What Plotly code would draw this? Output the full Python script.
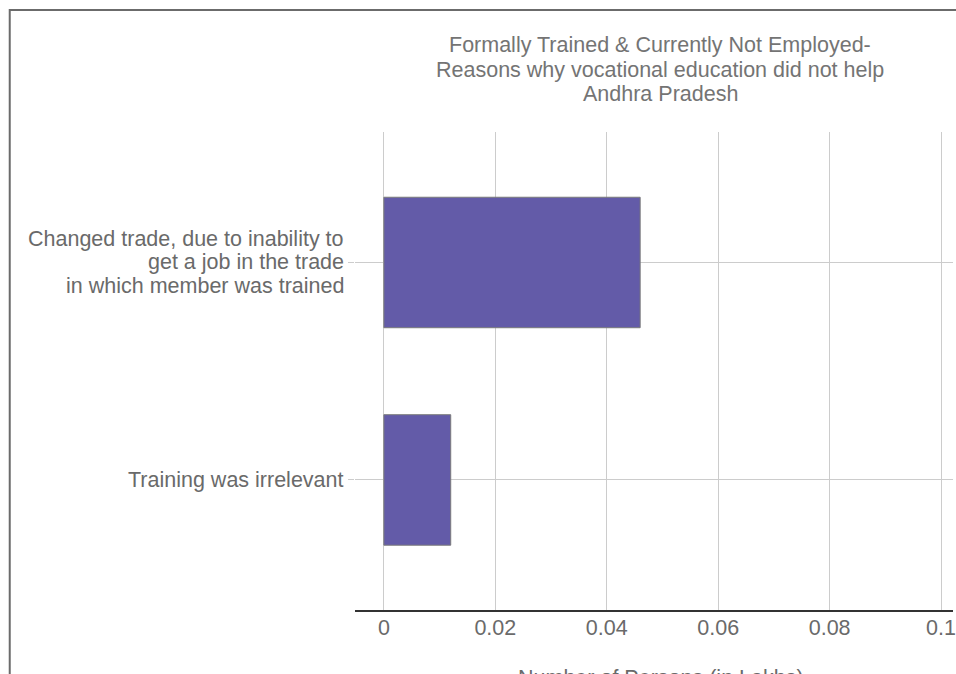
import plotly.graph_objects as go

categories = [
    "Training was irrelevant",
    "Changed trade, due to inability to<br>get a job in the trade<br>in which member was trained",
]
values = [0.012, 0.046]
tick_vals = [0, 0.02, 0.04, 0.06, 0.08, 0.1]
tick_text = ["0", "0.02", "0.04", "0.06", "0.08", "0.1"]
title_lines = [
    "Formally Trained & Currently Not Employed-",
    "Reasons why vocational education did not help",
    "Andhra Pradesh",
]
x_title = "Number of Persons (in Lakhs)"

W, H = 956, 674
L, R, T, B = 355, 956, 132, 610  # plot area in pixels
pw, ph = R - L, B - T

def px(x):
    return (x - L) / pw

def py(y):
    return (B - y) / ph

FONT = "Liberation Sans, Arial, sans-serif"
FS = 21.5
TXT = "#6a6a6a"

fig = go.Figure()
fig.add_trace(go.Bar(
    y=categories, x=values, orientation="h", width=0.6,
    marker=dict(color="#635ba8", line=dict(color="#7a7a7a", width=1)),
    hoverinfo="x+y",
))

annotations = []
# y category labels, one annotation per line for tight line spacing
for cat in categories:
    lines = cat.split("<br>")
    n = len(lines)
    for i, ln in enumerate(lines):
        annotations.append(dict(
            text=ln, xref="paper", yref="y", x=px(346), y=cat,
            xanchor="right", yanchor="middle", showarrow=False,
            yshift=((n - 1) / 2 - i) * 23.3,
            font=dict(size=FS, color=TXT, family=FONT),
        ))
# title lines
for i, ln in enumerate(title_lines):
    annotations.append(dict(
        text=ln, xref="paper", yref="paper", x=px(662), y=py(45 + 24.5 * i),
        xanchor="center", yanchor="middle", showarrow=False,
        font=dict(size=FS, color="#747474", family=FONT),
    ))
annotations.append(dict(
    text=x_title, xref="paper", yref="paper",
    x=px(663), y=py(664), xanchor="center", yanchor="top",
    showarrow=False, font=dict(size=FS, color=TXT, family=FONT)))

fig.update_layout(
    width=W, height=H,
    margin=dict(l=L, r=W - R, t=T, b=H - B, pad=0),
    paper_bgcolor="white", plot_bgcolor="white",
    showlegend=False,
    font=dict(family=FONT, size=FS, color=TXT),
    xaxis=dict(
        range=[-29 / 5600, 572 / 5600],
        tickvals=tick_vals, ticktext=tick_text,
        showgrid=True, gridcolor="#cccccc", gridwidth=1,
        zeroline=False,
        showline=True, linecolor="#333333", linewidth=1.5,
        ticks="", tickfont=dict(size=FS, color=TXT),
        ticklabeloverflow="allow", ticklabelstandoff=-3,
    ),
    yaxis=dict(
        type="category",
        range=[-0.598, 1.6],
        showgrid=True, gridcolor="#cccccc", gridwidth=1,
        zeroline=False, showline=False,
        ticks="outside", ticklen=6, tickcolor="#cccccc",
        showticklabels=False,
    ),
    shapes=[dict(
        type="rect", xref="paper", yref="paper",
        x0=px(8), x1=px(1000), y0=py(720), y1=py(10),
        line=dict(color="#6b6b6b", width=2), fillcolor="rgba(0,0,0,0)",
        layer="above",
    )],
    annotations=annotations,
)

fig.write_html(
    "out.html",
    config={"displayModeBar": False},
    post_script="document.body.style.margin='0';document.body.style.overflow='hidden';",
)
